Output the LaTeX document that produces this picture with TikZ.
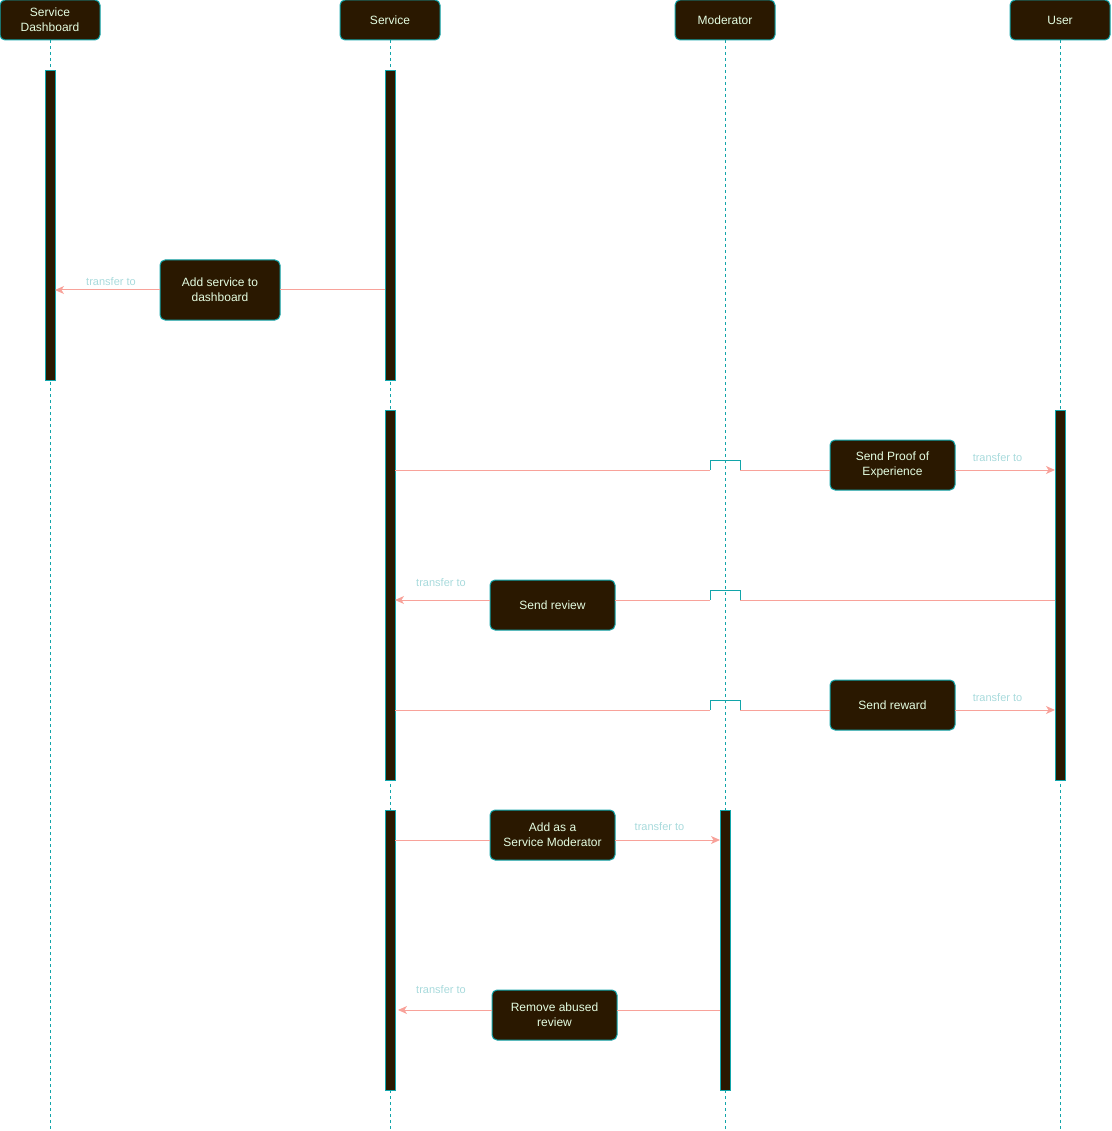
\documentclass[tikz,border=0pt]{standalone}
\usepackage{fontspec}
\setmainfont{Liberation Sans}
\usetikzlibrary{arrows.meta}
\definecolor{boxfill}{HTML}{2A1800}
\definecolor{tealc}{HTML}{12A5AA}
\definecolor{txtc}{HTML}{E4FDE1}
\definecolor{lblc}{HTML}{A8DADC}
\definecolor{arrc}{HTML}{F8A29A}
\begin{document}
\begin{tikzpicture}[x=1pt,y=-1pt,
  hdr/.style={draw=tealc, fill=boxfill, rounded corners=5pt, minimum width=100pt, minimum height=40pt,
    text=txtc, font=\fontsize{12}{15}\selectfont, align=center, inner sep=0pt, outer sep=0pt, line width=1pt},
  msgbox/.style={hdr, minimum width=125pt, minimum height=50pt},
  bar/.style={draw=tealc, fill=boxfill, line width=0.8pt, minimum width=10pt, inner sep=0pt, outer sep=0pt, anchor=north},
  life/.style={draw=tealc, dash pattern=on 3pt off 3pt, line width=1pt},
  msg/.style={draw=arrc, line width=1pt},
  tipped/.style={-{Stealth[length=9pt,width=8pt,inset=2.5pt]}},
  jump/.style={draw=tealc, line width=1pt},
  lbl/.style={text=lblc, font=\fontsize{11}{13}\selectfont, inner sep=0pt}
]
\useasboundingbox (0,0) rectangle (1111,1131);

% headers
\node[hdr] (hdash) at (50,20) {Service\\Dashboard};
\node[hdr] (hserv) at (390,20) {Service};
\node[hdr] (hmod) at (725,20) {Moderator};
\node[hdr] (huser) at (1060,20) {User};

% lifeline ends
\coordinate (edash) at (50,1131);
\coordinate (eserv) at (390,1131);
\coordinate (emod) at (725,1131);
\coordinate (euser) at (1060,1131);
\draw[life] (hdash.south) -- (edash);
\draw[life] (hserv.south) -- (eserv);
\draw[life] (hmod.south) -- (emod);
\draw[life] (huser.south) -- (euser);

% activation bars
\node[bar, minimum height=310pt] (dbar) at (50,70) {};
\node[bar, minimum height=310pt] (sbar1) at (390,70) {};
\node[bar, minimum height=370pt] (sbar2) at (390,410) {};
\node[bar, minimum height=280pt] (sbar3) at (390,810) {};
\node[bar, minimum height=370pt] (ubar) at (1060,410) {};
\node[bar, minimum height=280pt] (mbar) at (725,810) {};

% message boxes
\node[msgbox, minimum width=120pt, minimum height=60pt] (m1) at (220,290) {Add service to\\dashboard};
\node[msgbox] (m2) at (892.5,465) {Send Proof of\\Experience};
\node[msgbox] (m3) at (552.5,605) {Send review};
\node[msgbox] (m4) at (892.5,705) {Send reward};
\node[msgbox] (m5) at (552.5,835) {Add as a\\Service Moderator};
\node[msgbox] (m6) at (554.5,1015) {Remove abused\\review};

% message 1
\draw[msg] (sbar1.west |- m1.east) -- (m1.east);
\draw[msg, tipped] (m1.west) -- (dbar.east |- m1.west);
\node[lbl] (l1) at (111,281.5) {transfer to};

% message 2
\coordinate (a2) at (sbar2.east |- 0,470);
\coordinate (j2a) at (710,470);
\coordinate (j2b) at (740,470);
\coordinate (b2) at (m2.west |- a2);
\coordinate (c2) at (m2.east |- a2);
\coordinate (d2) at (ubar.west |- a2);
\draw[msg] (a2) -- (j2a);
\draw[jump] (j2a) -- ++(0,-10) -| (j2b);
\draw[msg] (j2b) -- (b2);
\draw[msg, tipped] (c2) -- (d2);
\node[lbl] (l2) at (997.5,458) {transfer to};

% message 3
\coordinate (a3) at (ubar.west |- 0,600);
\coordinate (j3a) at (740,600);
\coordinate (j3b) at (710,600);
\coordinate (b3) at (m3.east |- a3);
\coordinate (c3) at (m3.west |- a3);
\coordinate (d3) at (sbar2.east |- a3);
\draw[msg] (a3) -- (j3a);
\draw[jump] (j3a) -- ++(0,-10) -| (j3b);
\draw[msg] (j3b) -- (b3);
\draw[msg, tipped] (c3) -- (d3);
\node[lbl] (l3) at (441,583) {transfer to};

% message 4
\coordinate (a4) at (sbar2.east |- 0,710);
\coordinate (j4a) at (710,710);
\coordinate (j4b) at (740,710);
\coordinate (b4) at (m4.west |- a4);
\coordinate (c4) at (m4.east |- a4);
\coordinate (d4) at (ubar.west |- a4);
\draw[msg] (a4) -- (j4a);
\draw[jump] (j4a) -- ++(0,-10) -| (j4b);
\draw[msg] (j4b) -- (b4);
\draw[msg, tipped] (c4) -- (d4);
\node[lbl] (l4) at (997.5,698) {transfer to};

% message 5
\coordinate (a5) at (sbar3.east |- 0,840);
\coordinate (b5) at (m5.west |- a5);
\coordinate (c5) at (m5.east |- a5);
\coordinate (d5) at (mbar.west |- a5);
\draw[msg] (a5) -- (b5);
\draw[msg, tipped] (c5) -- (d5);
\node[lbl] (l5) at (659.5,827) {transfer to};

% message 6
\coordinate (a6) at (mbar.west |- 0,1010);
\coordinate (b6) at (m6.east |- a6);
\coordinate (c6) at (m6.west |- a6);
\coordinate (d6) at ([xshift=3pt]sbar3.east |- a6);
\draw[msg] (a6) -- (b6);
\draw[msg, tipped] (c6) -- (d6);
\node[lbl] (l6) at (441,990) {transfer to};
\end{tikzpicture}
\end{document}
